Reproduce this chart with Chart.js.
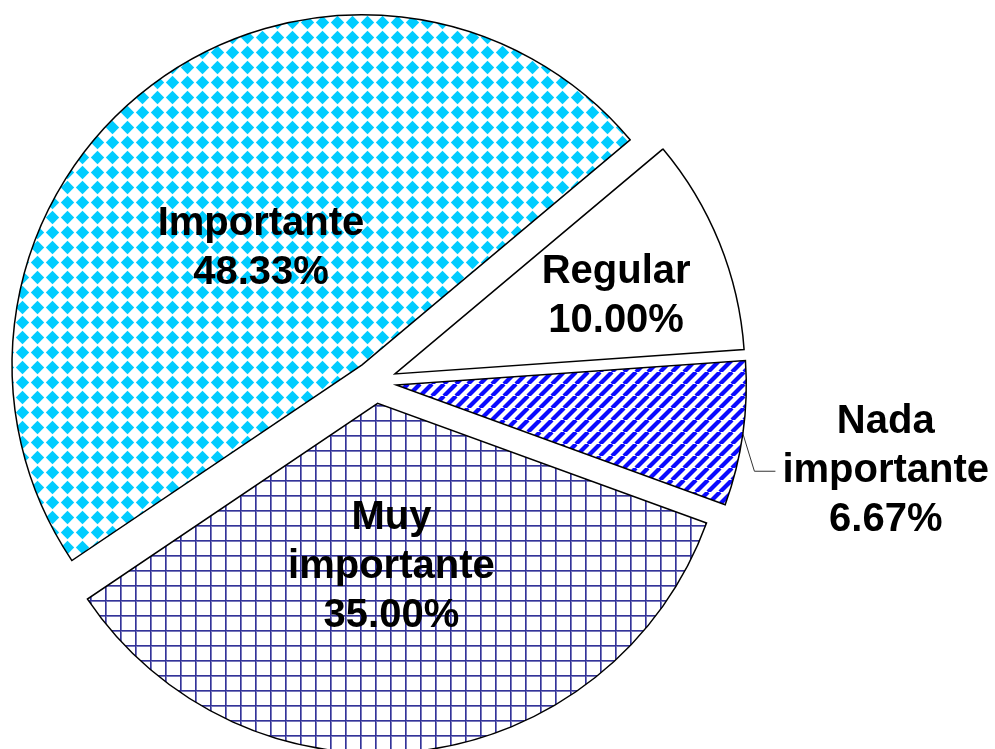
<!DOCTYPE html>
<html>
<head>
<meta charset="utf-8">
<script src="https://cdn.jsdelivr.net/npm/chart.js@4.4.1/dist/chart.umd.min.js"></script>
<style>
  html, body { margin: 0; padding: 0; background: #fff; }
  #contenedor { width: 995px; height: 749px; position: relative; }
</style>
</head>
<body>
<div id="contenedor"><canvas id="grafica"></canvas></div>
<script>
// datos del grafico
const categorias = ['Importante', 'Regular', 'Nada importante', 'Muy importante'];
const porcentajes = [48.33, 10.00, 6.67, 35.00];

// colocacion de los rotulos (fraccion del radio y giro en grados)
const rotuloRadio = [0.44, 0.67, 1.42, 0.47];
const rotuloGiro = [-4, 2.6, 2, 2.2];
const separacion = 21.5;

const canvas = document.getElementById('grafica');
const ctx = canvas.getContext('2d');

function patron(tam, dibujar) {
    const c = document.createElement('canvas');
    c.width = tam; c.height = tam;
    const g = c.getContext('2d');
    g.fillStyle = '#ffffff';
    g.fillRect(0, 0, tam, tam);
    dibujar(g, tam);
    return ctx.createPattern(c, 'repeat');
}

const rombos = patron(15, (g, t) => {
    g.fillStyle = '#00ccff';
    g.beginPath();
    g.moveTo(t / 2, 0.8); g.lineTo(t - 0.8, t / 2); g.lineTo(t / 2, t - 0.8); g.lineTo(0.8, t / 2);
    g.closePath();
    g.fill();
});

const rayas = patron(12, (g, t) => {
    g.strokeStyle = '#0a0aff';
    g.lineWidth = 4.2;
    for (let k = -1; k <= 1; k++) {
        g.beginPath();
        g.moveTo(k * t, t);
        g.lineTo(k * t + t, 0);
        g.stroke();
    }
});

const cuadricula = patron(15, (g, t) => {
    g.fillStyle = '#7777bb';
    g.fillRect(1, 0, 1, t);
    g.fillRect(0, 1, t, 1);
    g.fillStyle = '#333399';
    g.fillRect(0, 0, 1, t);
    g.fillRect(0, 0, t, 1);
});

const rellenos = [rombos, '#ffffff', rayas, cuadricula];

// separa cada porcion de la torta a lo largo de su bisectriz
const separar = {
    id: 'separar',
    afterDatasetUpdate(chart, args) {
        args.meta.data.forEach(arco => {
            const medio = (arco.startAngle + arco.endAngle) / 2;
            arco.x += Math.cos(medio) * separacion;
            arco.y += Math.sin(medio) * separacion;
        });
    }
};

const rotulos = {
    id: 'rotulos',
    afterDatasetsDraw(chart) {
        const c = chart.ctx;
        const arcos = chart.getDatasetMeta(0).data;
        c.save();
        c.font = 'bold 40px "Liberation Sans", Arial, sans-serif';
        c.fillStyle = '#000';
        c.textAlign = 'center';
        c.textBaseline = 'middle';
        arcos.forEach((arco, i) => {
            const medio = (arco.startAngle + arco.endAngle) / 2;
            const ang = medio + rotuloGiro[i] * Math.PI / 180;
            const r = arco.outerRadius * rotuloRadio[i];
            const cx = arco.x + Math.cos(ang) * r;
            const cy = arco.y + Math.sin(ang) * r;
            const lineas = categorias[i].split(' ').concat(porcentajes[i].toFixed(2) + '%');
            const alto = 49;
            const y0 = cy - (lineas.length - 1) * alto / 2;
            lineas.forEach((t, k) => c.fillText(t, cx, y0 + k * alto));

            if (rotuloRadio[i] > 1) {
                const ancho = Math.max(...lineas.map(t => c.measureText(t).width));
                const fin = cx - ancho / 2 - 7;
                c.strokeStyle = '#333';
                c.lineWidth = 1;
                c.beginPath();
                c.moveTo(arco.x + Math.cos(medio) * arco.outerRadius, arco.y + Math.sin(medio) * arco.outerRadius);
                c.lineTo(fin - 21, cy);
                c.lineTo(fin, cy);
                c.stroke();
            }
        });
        c.restore();
    }
};

new Chart(canvas, {
    type: 'pie',
    data: {
        labels: categorias,
        datasets: [{
            data: porcentajes,
            backgroundColor: rellenos,
            borderColor: '#000',
            borderWidth: 1.5,
            borderJoinStyle: 'miter',
            radius: 350,
            clip: false
        }]
    },
    options: {
        responsive: true,
        maintainAspectRatio: false,
        animation: false,
        events: [],
        rotation: 236,
        layout: { padding: { left: 0, right: 245, top: 15, bottom: 0 } },
        plugins: {
            legend: { display: false },
            tooltip: { enabled: false }
        }
    },
    plugins: [separar, rotulos]
});
</script>
</body>
</html>
